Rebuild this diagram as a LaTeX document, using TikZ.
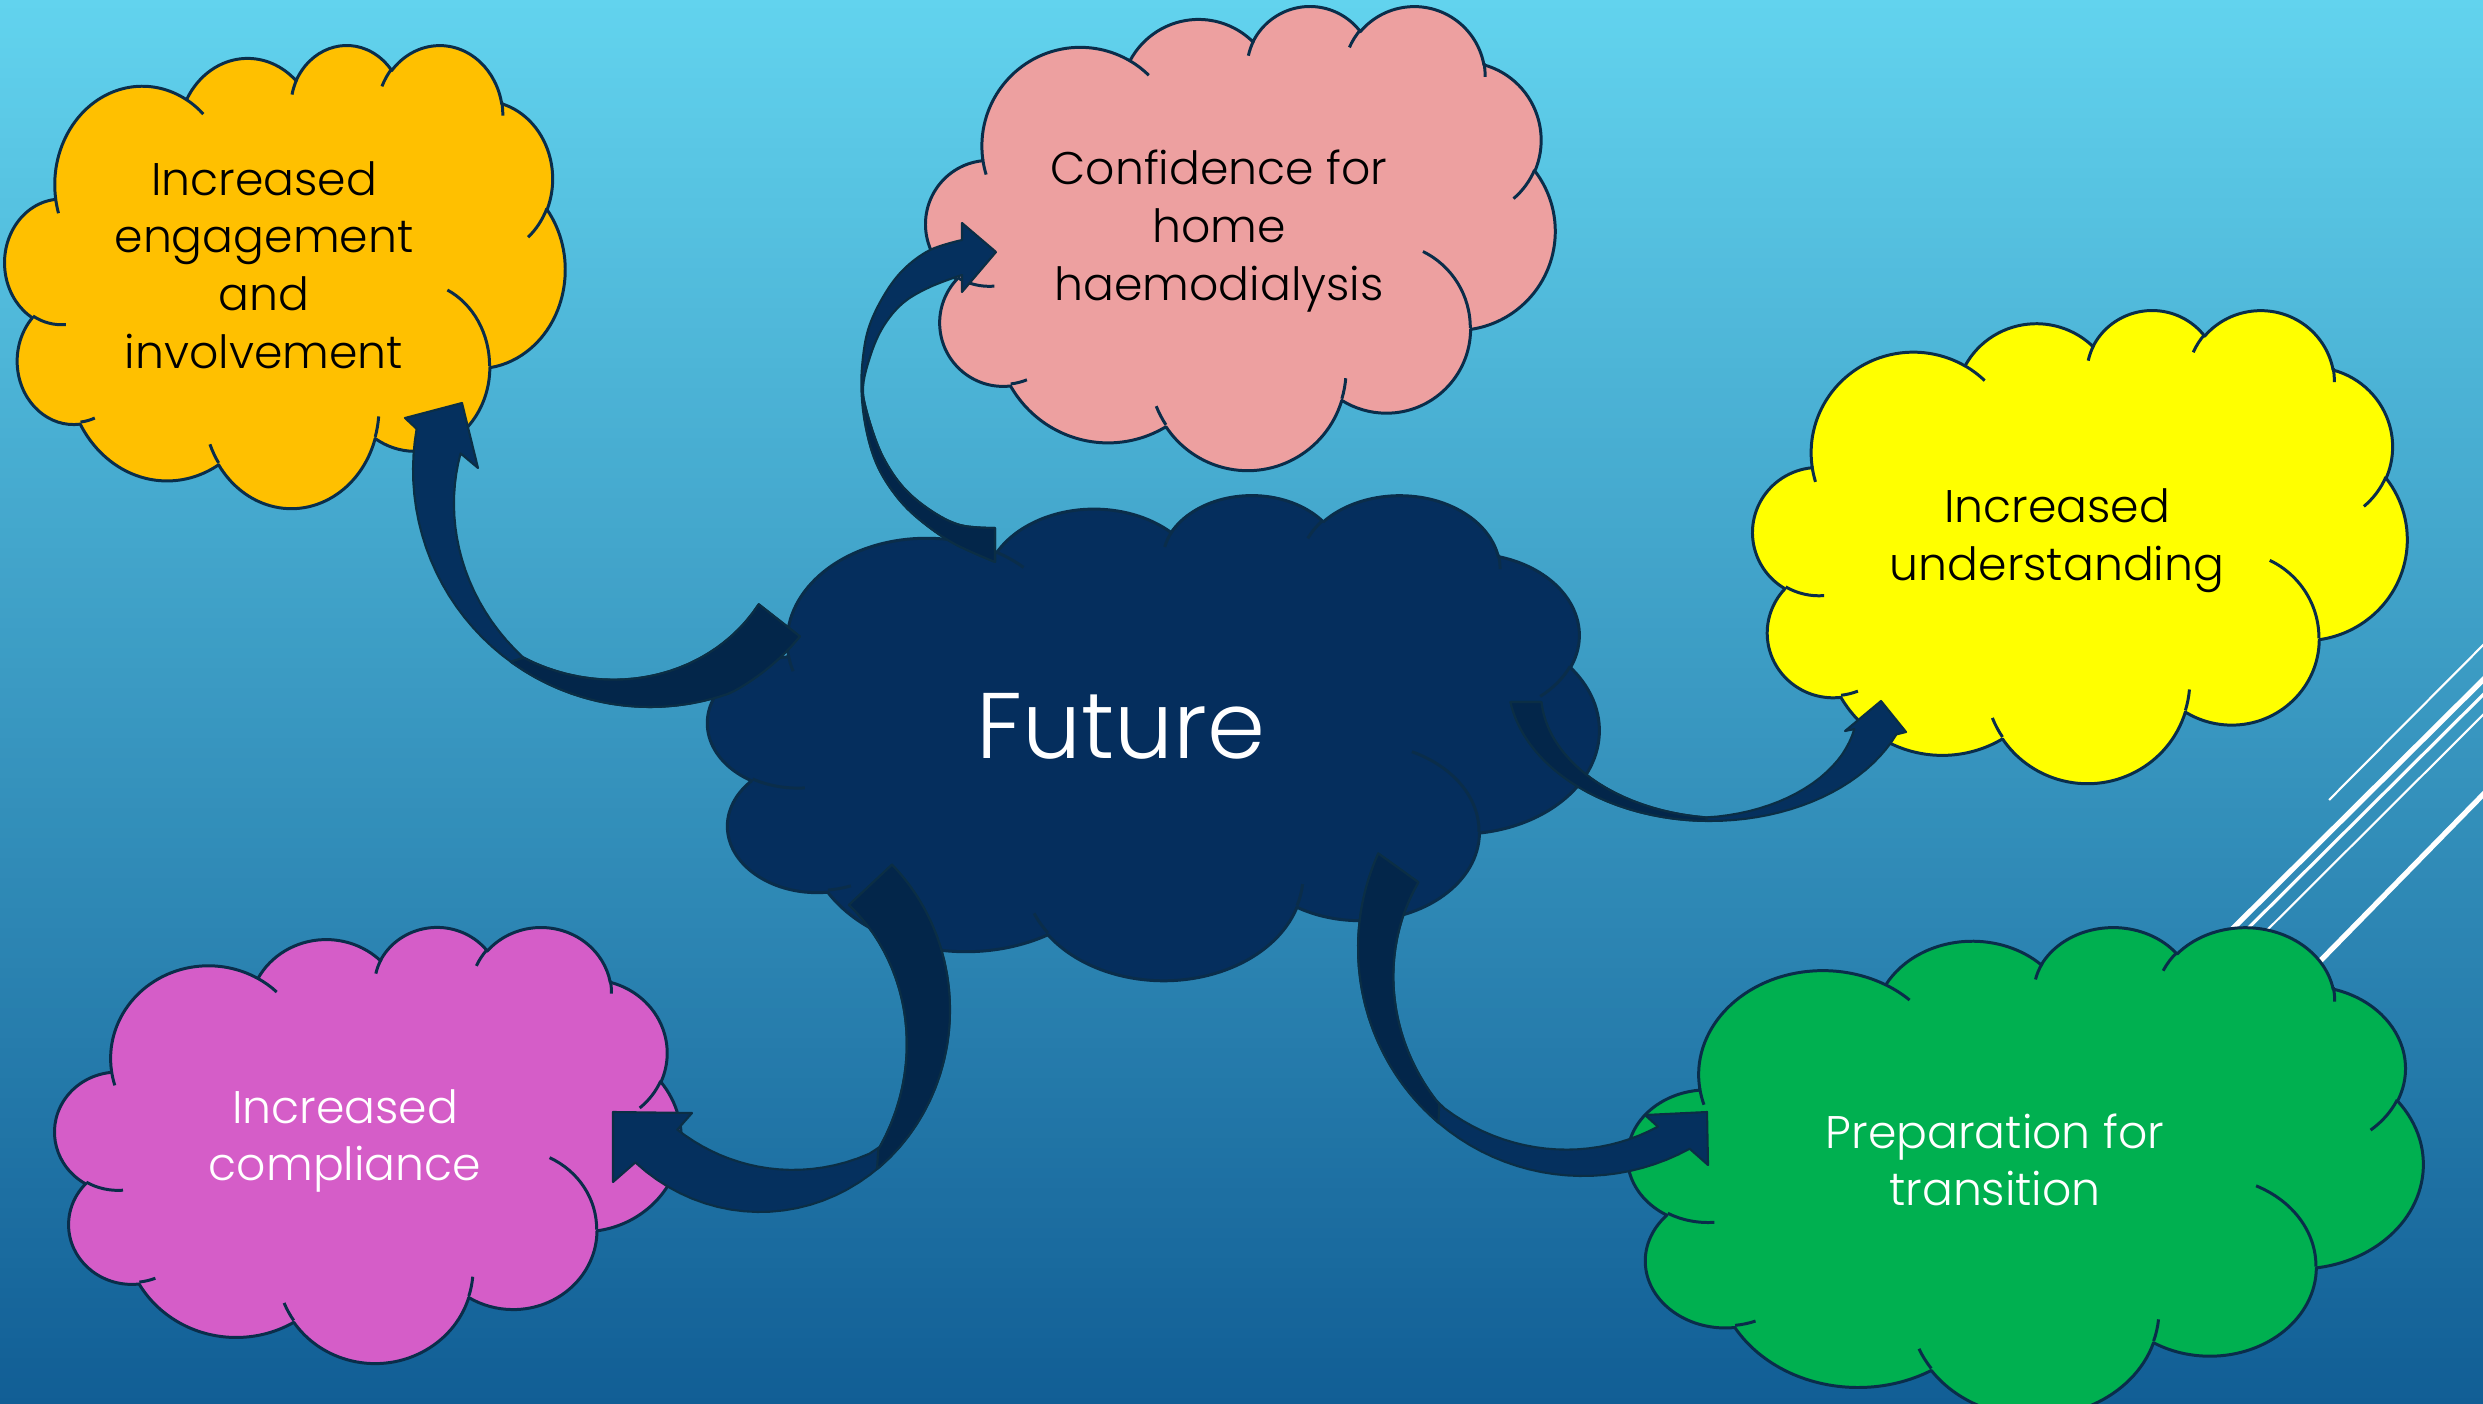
\documentclass[tikz,border=0pt]{standalone}
\usepackage{fontspec}
\IfFontExistsTF{Poppins Light}{\setmainfont{Poppins Light}}{\setmainfont{Poppins}}
\definecolor{bgtop}{HTML}{62D3EE}
\definecolor{bgbot}{HTML}{115E95}
\definecolor{cloudline}{HTML}{0A2D4A}
\definecolor{futurefill}{HTML}{052E5D}
\definecolor{arrfront}{HTML}{05305E}
\definecolor{arrback}{HTML}{03264A}
\definecolor{arrline}{HTML}{0B2E45}
\definecolor{corange}{HTML}{FFC000}
\definecolor{cpink}{HTML}{EDA0A0}
\definecolor{cyellow}{HTML}{FFFF00}
\definecolor{cmagenta}{HTML}{D55DC8}
\definecolor{cgreen}{HTML}{00B050}

% convert DrawingML visual arc angles into parametric TikZ angles
\newcommand\cloudang[5]{%
  \pgfmathsetmacro\cloudtmpa{atan2((#2)*sin(#4),(#3)*cos(#4))}%
  \pgfmathsetmacro\cloudtmpb{atan2((#2)*sin((#4)+(#5)),(#3)*cos((#4)+(#5)))}%
  \pgfmathsetmacro\cloudtmpd{mod(\cloudtmpb-(\cloudtmpa)+720,360)}%
  \expandafter\xdef\csname cloudS#1\endcsname{\cloudtmpa}%
  \expandafter\xdef\csname cloudD#1\endcsname{\cloudtmpd}%
}
\cloudang{A}{67.53}{91.90}{-190.4875}{123.7805}
\cloudang{B}{53.33}{72.67}{-144.1024}{89.9452}
\cloudang{C}{43.65}{59.45}{-145.8079}{99.7230}
\cloudang{D}{48.57}{65.95}{-130.9861}{117.2417}
\cloudang{E}{53.33}{72.73}{-78.7089}{109.0269}
\cloudang{F}{67.75}{92.20}{-46.2673}{130.2690}
\cloudang{G}{57.85}{78.67}{0.6250}{114.0333}
\cloudang{H}{67.52}{92.15}{22.4516}{115.1726}
\cloudang{I}{77.20}{105.43}{66.2426}{75.7110}
\cloudang{J}{43.60}{59.18}{-274.9421}{146.7356}
\cloudang{K}{43.45}{59.45}{-246.8285}{152.5189}
\cloudang{a}{43.45}{59.45}{86.7420}{26.4295}
\cloudang{b}{43.60}{59.18}{73.6105}{11.4475}
\cloudang{c}{67.52}{92.15}{137.6242}{14.0811}
\cloudang{d}{67.52}{92.15}{6.4533}{15.9984}
\cloudang{e}{57.85}{78.67}{-70.2924}{70.9174}
\cloudang{f}{53.33}{72.73}{30.3180}{27.7515}
\cloudang{g}{48.57}{65.95}{-13.7443}{14.8589}
\cloudang{h}{48.57}{65.95}{-149.1815}{18.1954}
\cloudang{i}{43.65}{59.45}{-163.4943}{17.6864}
\cloudang{j}{67.53}{91.90}{-66.7070}{12.3194}
\cloudang{k}{67.53}{91.90}{157.6544}{11.8582}

\def\cloudpath{(39.00,143.70)
  arc[start angle=\cloudSA, delta angle=\cloudDA, x radius=67.53, y radius=91.90]
  arc[start angle=\cloudSB, delta angle=\cloudDB, x radius=53.33, y radius=72.67]
  arc[start angle=\cloudSC, delta angle=\cloudDC, x radius=43.65, y radius=59.45]
  arc[start angle=\cloudSD, delta angle=\cloudDD, x radius=48.57, y radius=65.95]
  arc[start angle=\cloudSE, delta angle=\cloudDE, x radius=53.33, y radius=72.73]
  arc[start angle=\cloudSF, delta angle=\cloudDF, x radius=67.75, y radius=92.20]
  arc[start angle=\cloudSG, delta angle=\cloudDG, x radius=57.85, y radius=78.67]
  arc[start angle=\cloudSH, delta angle=\cloudDH, x radius=67.52, y radius=92.15]
  arc[start angle=\cloudSI, delta angle=\cloudDI, x radius=77.20, y radius=105.43]
  arc[start angle=\cloudSJ, delta angle=\cloudDJ, x radius=43.60, y radius=59.18]
  arc[start angle=\cloudSK, delta angle=\cloudDK, x radius=43.45, y radius=59.45]
  -- cycle}
\def\cloudcreases{
  (46.93,261.77) arc[start angle=\cloudSa, delta angle=\cloudDa, x radius=43.45, y radius=59.45]
  (69.28,348.99) arc[start angle=\cloudSb, delta angle=\cloudDb, x radius=43.60, y radius=59.18]
  (164.78,390.90) arc[start angle=\cloudSc, delta angle=\cloudDc, x radius=67.52, y radius=92.15]
  (288.27,347.51) arc[start angle=\cloudSd, delta angle=\cloudDd, x radius=67.52, y radius=92.15]
  (341.29,229.54) arc[start angle=\cloudSe, delta angle=\cloudDe, x radius=57.85, y radius=78.67]
  (417.98,153.54) arc[start angle=\cloudSf, delta angle=\cloudDf, x radius=53.33, y radius=72.73]
  (383.24,54.26) arc[start angle=\cloudSg, delta angle=\cloudDg, x radius=48.57, y radius=65.95]
  (290.78,39.52) arc[start angle=\cloudSh, delta angle=\cloudDh, x radius=48.57, y radius=65.95]
  (221.41,47.20) arc[start angle=\cloudSi, delta angle=\cloudDi, x radius=43.65, y radius=59.45]
  (140.00,51.92) arc[start angle=\cloudSj, delta angle=\cloudDj, x radius=67.53, y radius=91.90]
  (41.27,157.89) arc[start angle=\cloudSk, delta angle=\cloudDk, x radius=67.53, y radius=91.90]
}
\newcommand\drawcloud[5]{%
  \begin{scope}[shift={(#1,#2)}, xscale={(#3-#1)/432}, yscale={(#4-#2)/432}]
    \filldraw[cloudstyle, fill=#5] \cloudpath;
    \draw[cloudstyle] \cloudcreases;
  \end{scope}}

\tikzset{
  cloudstyle/.style={draw=cloudline, line width=0.85pt, line join=round},
  lbl/.style={align=center, inner sep=0pt, font=\fontsize{13}{16.4}\selectfont},
  biglbl/.style={align=center, inner sep=0pt, font=\fontsize{26.5}{30}\selectfont},
  arrowbody/.style={fill=arrfront, draw=arrline, line width=0.6pt, line join=round},
  arrowback/.style={fill=arrback, draw=arrline, line width=0.6pt, line join=round},
  deco/.style={draw=white, line cap=butt},
  pl/.style={samples=45, variable=\t},
  declare function={
    sA(\t)=ifthenelse(\t>124, 0.955-0.0025*(\t-124), 0.955-0.002*(124-\t)-0.00001*(124-\t)*(124-\t));
    fA(\t)=1-0.0025*max(0,70-\t);
    sC(\t)=ifthenelse(\t>91, 0.975-0.0016*(\t-91), 0.975-0.0018*(91-\t)-0.000008*(91-\t)*(91-\t));
    sD(\t)=ifthenelse(\t<48, 0.70+0.23*((\t+48)/96)*((\t+48)/96), 0.735+0.195*((126.3-\t)/78.3)*((126.3-\t)/78.3));
    sE(\t)=ifthenelse(\t>133, 0.937-0.0022*(\t-133), 0.937-0.0013*(133-\t));
  },
}

\begin{document}
\begin{tikzpicture}[x=0.01cm, y=0.01cm, yscale=-1]
\useasboundingbox (0,0) rectangle (2483,1404);
\clip (0,0) rectangle (2483,1404);

% background gradient
\foreach \i in {0,...,140} {
  \pgfmathsetmacro\pct{\i/140*100}
  \fill[bgbot!\pct!bgtop] (-5,\i*10-2) rectangle (2490,\i*10+11);
}

% decorative white lines (right edge)
\draw[deco, line width=0.6pt] (2329,800) -- (2510,618);
\draw[deco, line width=1.5pt] (2180,981) -- (2510,653);
\draw[deco, line width=0.9pt] (2198,978) -- (2510,668);
\draw[deco, line width=0.6pt] (2217,980) -- (2510,688);
\draw[deco, line width=1.5pt] (2280,1002) -- (2510,767);

% clouds
\drawcloud{708}{494}{1599}{979}{futurefill}
\drawcloud{5}{44}{565}{507}{corange}
\drawcloud{926}{5}{1555}{469}{cpink}
\drawcloud{1753}{309}{2407}{782}{cyellow}
\drawcloud{55}{926}{681}{1362}{cmagenta}
\drawcloud{1628}{926}{2423}{1415}{cgreen}

% curved arrow: Future -> engagement
\path[arrowbody] (405,418) -- (462,403) -- (478,468)
  -- plot[pl, domain=185:51] ({650+237*sA(\t)*cos(\t)}, {470+237*sA(\t)*sin(\t)})
  -- plot[pl, domain=48:190] ({650+237*fA(\t)*cos(\t)}, {470+237*fA(\t)*sin(\t)})
  -- cycle;
\path[arrowback] plot[pl, domain=124:51] ({650+237*sA(\t)*cos(\t)}, {470+237*sA(\t)*sin(\t)})
  -- plot[pl, domain=48:126] ({650+237*fA(\t)*cos(\t)}, {470+237*fA(\t)*sin(\t)})
  -- cycle;

% curved arrow: Future -> confidence
\path[arrowbody] (962,240) -- (962,223) -- (996,252) -- (962,292) -- (962,275)
  -- plot[smooth, tension=0.6] coordinates {(962,275) (930,287) (903,303) (883,327) (870,357) (863,390) (870,423) (883,457) (903,487) (930,510) (960,525) (995,528)}
  -- (995,562)
  -- plot[smooth, tension=0.6] coordinates {(995,562) (953,543) (920,520) (897,497) (878,467) (867,433) (862,400) (862,367) (868,330) (883,297) (903,270) (930,250) (962,240)}
  -- cycle;
\path[arrowback] plot[smooth, tension=0.6] coordinates {(862,392) (867,433) (878,467) (897,497) (920,520) (953,543) (995,562)}
  -- (995,528)
  -- plot[smooth, tension=0.6] coordinates {(995,528) (960,525) (930,510) (903,487) (883,457) (870,423) (862,392)}
  -- cycle;

% curved arrow: Future -> understanding
\path[arrowbody] (1845,731) -- (1881,701) -- (1906,732)
  -- plot[pl, domain=22.7:171] ({1710+202*cos(\t)}, {680+141*sin(\t)})
  -- plot[pl, domain=169.4:26] ({1710+202*sC(\t)*cos(\t)}, {680+141*sC(\t)*sin(\t)})
  -- cycle;
\path[arrowback] plot[pl, domain=91:171] ({1710+202*cos(\t)}, {680+141*sin(\t)})
  -- plot[pl, domain=169.4:91] ({1710+202*sC(\t)*cos(\t)}, {680+141*sC(\t)*sin(\t)})
  -- cycle;

% curved arrow: Future -> compliance
\path[arrowbody] (692,1113) -- (613,1112) -- (613,1182)
  -- plot[pl, domain=131:-46] ({760+190*cos(\t)}, {1010+202*sin(\t)})
  -- plot[pl, domain=-48:126.3] ({760+190*sD(\t)*cos(\t)}, {1010+202*sD(\t)*sin(\t)})
  -- cycle;
\path[arrowback] plot[pl, domain=52:-46] ({760+190*cos(\t)}, {1010+202*sin(\t)})
  -- plot[pl, domain=-48:48] ({760+190*sD(\t)*cos(\t)}, {1010+202*sD(\t)*sin(\t)})
  -- cycle;

% curved arrow: Future -> transition
\path[arrowbody] (1645,1115) -- (1707,1112) -- (1708,1165)
  -- plot[pl, domain=61.7:204.5] ({1583+225*cos(\t)}, {948+228*sin(\t)})
  -- plot[pl, domain=201.5:67] ({1583+225*sE(\t)*cos(\t)}, {948+228*sE(\t)*sin(\t)})
  -- cycle;
\path[arrowback] plot[pl, domain=130:204.5] ({1583+225*cos(\t)}, {948+228*sin(\t)})
  -- plot[pl, domain=201.5:133] ({1583+225*sE(\t)*cos(\t)}, {948+228*sE(\t)*sin(\t)})
  -- cycle;

% labels
\node[biglbl, text=white] (future) at (1121,726) {Future};
\node[lbl, text=black] (engage) at (264,265) {Increased\\engagement\\and\\involvement};
\node[lbl, text=black] (confid) at (1219,231) {Confidence for\\home\\haemodialysis};
\node[lbl, text=black] (underst) at (2057,541) {Increased\\understanding};
\node[lbl, text=white] (compl) at (345,1141) {Increased\\compliance};
\node[lbl, text=white] (trans) at (1995,1160) {Preparation for\\transition};
\end{tikzpicture}
\end{document}
